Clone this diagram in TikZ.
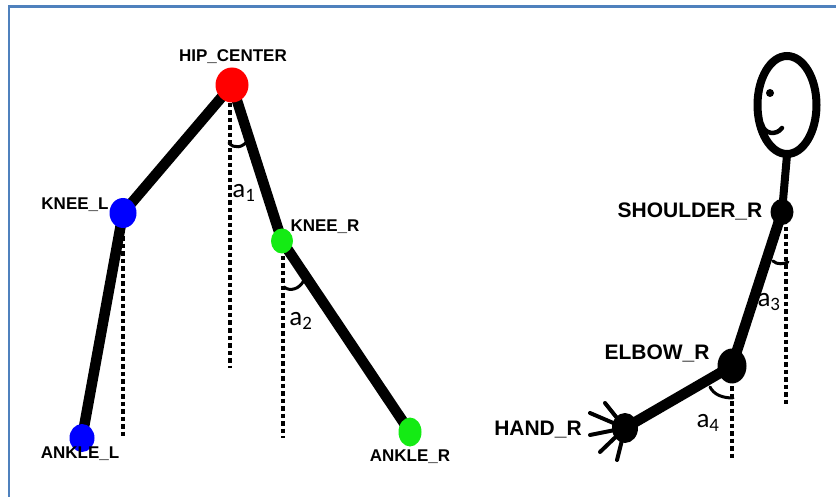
\documentclass[tikz,border=0pt]{standalone}
\usepackage{fontspec}
\setmainfont{Liberation Sans}
\newfontfamily\anglefont{Carlito}
\usetikzlibrary{shapes.geometric}
\definecolor{framecol}{RGB}{79,129,189}
\definecolor{jointgreen}{RGB}{20,235,20}
\tikzset{
  joint/.style={ellipse, inner sep=0pt, draw=none},
  limb/.style={line width=10.5pt, line cap=round},
  plumb/.style={line width=4pt, dash pattern=on 4.5pt off 3pt},
  anglemark/.style={line width=3pt, line cap=round},
  jointlabel/.style={font=\bfseries\fontsize{17}{17}\selectfont, inner sep=0pt},
  armlabel/.style={font=\bfseries\fontsize{21}{21}\selectfont, inner sep=0pt},
  anglelabel/.style={font=\anglefont\fontsize{27}{27}\selectfont, inner sep=0pt},
  finger/.style={line width=4pt, line cap=round}
}
\begin{document}
\begin{tikzpicture}[x=1pt, y=-1pt]
  \useasboundingbox (0,0) rectangle (836,497);
  % frame (top and left edges only)
  \draw[framecol, line width=2.6pt] (9,497) -- (9,6.5) -- (836,6.5);

  % ---------- leg figure ----------
  \coordinate (hipc) at (232,85);
  \coordinate (kneelc) at (123,213);
  \coordinate (anklelc) at (82,438);
  \coordinate (kneerc) at (282,241);
  \coordinate (anklerc) at (410,432);

  \draw[limb] (hipc) -- (kneelc) -- (anklelc);
  \draw[limb] (hipc) -- (kneerc) -- (anklerc);

  % plumb lines
  \coordinate (hipv) at (230,368);
  \coordinate (kneelv) at (123,438);
  \coordinate (kneerv) at (283,438);
  \draw[plumb] (230,103) -- (hipv);
  \draw[plumb] (123,229) -- (kneelv);
  \draw[plumb] (283,256) -- (kneerv);

  % angle marks
  \draw[anglemark] (229,143) .. controls (234,149) and (243,148) .. (248,140);
  \draw[anglemark] (284,287) .. controls (290,292) and (300,289) .. (304,280);

  \node[joint, fill=red, minimum width=33pt, minimum height=35pt] (hip) at (hipc) {};
  \node[joint, fill=blue, minimum width=27pt, minimum height=30pt] (kneel) at (kneelc) {};
  \node[joint, fill=blue, minimum width=25pt, minimum height=28pt] (anklel) at (anklelc) {};
  \node[joint, fill=jointgreen, minimum width=22pt, minimum height=25pt] (kneer) at (kneerc) {};
  \node[joint, fill=jointgreen, minimum width=23pt, minimum height=29pt] (ankler) at (anklerc) {};

  \node[jointlabel] (hiplab) at (233,57) {HIP\_CENTER};
  \node[jointlabel] (kneellab) at (75,205) {KNEE\_L};
  \node[jointlabel] (kneerlab) at (325,227) {KNEE\_R};
  \node[jointlabel] (anklellab) at (80,454) {ANKLE\_L};
  \node[jointlabel] (anklerlab) at (410,457) {ANKLE\_R};

  \node[anglelabel] (a1) at (244,193) {a\textsubscript{1}};
  \node[anglelabel] (a2) at (301,321) {a\textsubscript{2}};

  % ---------- arm figure ----------
  \coordinate (shc) at (782,212);
  \coordinate (elc) at (732,366);
  \coordinate (hdc) at (625,428);

  % head
  \draw[line width=8pt] (787,105) ellipse [x radius=29.5, y radius=49];
  \fill (770,93) circle (4);
  \draw[line width=4.5pt, line cap=round] (762,124) .. controls (764,134) and (776,136) .. (782,128);
  \draw[line width=8pt] (787,155) -- (shc);

  \draw[limb] (shc) -- (elc) -- (hdc);

  % fingers
  \foreach \dx/\dy in {-20/-25, -35/-15, -35/7, -25/24, -8/32}
    \draw[finger] (hdc) -- ++(\dx,\dy);

  \coordinate (shv) at (786,406);
  \coordinate (elv) at (732,461);
  \draw[plumb] (786,227) -- (shv);
  \draw[plumb] (732,386) -- (elv);

  \draw[anglemark] (773,261) .. controls (777,265) and (784,264) .. (788,262);
  \draw[anglemark] (710,387) .. controls (714,395) and (723,398) .. (733,398);

  \node[joint, fill=black, minimum width=23pt, minimum height=26pt] (shoulder) at (shc) {};
  \node[joint, fill=black, minimum width=29pt, minimum height=35pt] (elbow) at (elc) {};
  \node[joint, fill=black, minimum width=26pt, minimum height=30pt] (hand) at (hdc) {};

  \node[armlabel] (shlab) at (690,211) {SHOULDER\_R};
  \node[armlabel] (ellab) at (657,353) {ELBOW\_R};
  \node[armlabel] (hdlab) at (538,430) {HAND\_R};

  \node[anglelabel] (a3) at (769,302) {a\textsubscript{3}};
  \node[anglelabel] (a4) at (708,423) {a\textsubscript{4}};
\end{tikzpicture}
\end{document}
